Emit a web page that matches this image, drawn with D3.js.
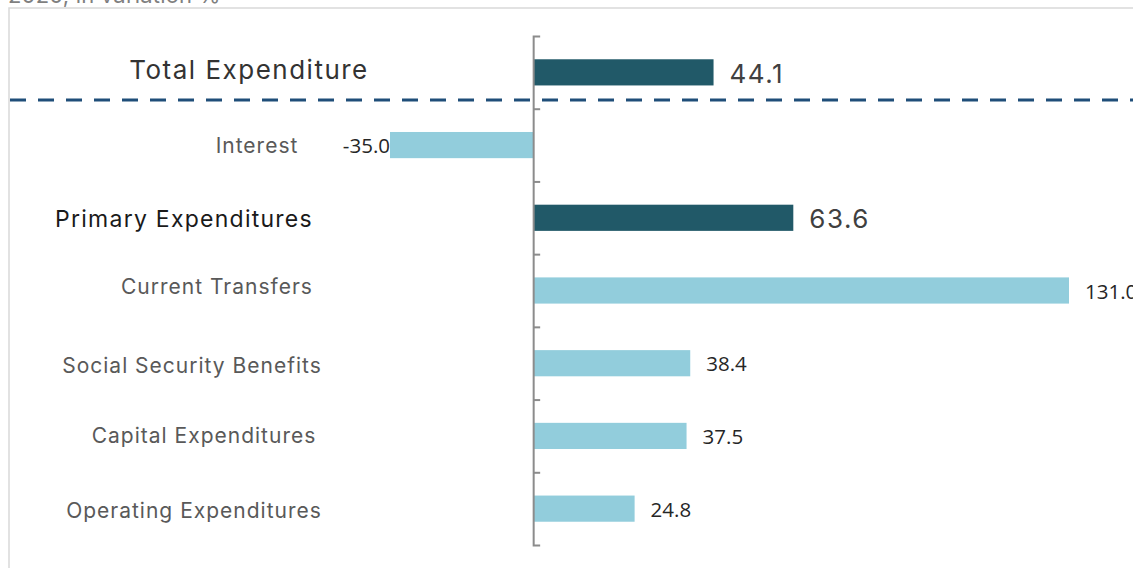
<!DOCTYPE html>
<html>
<head>
<meta charset="utf-8">
<script src="https://cdn.jsdelivr.net/npm/d3@7"></script>
<style>
  body { margin: 0; background: #fff; }
  .cat { font-family: Inter, "Open Sans", sans-serif; }
  .val-big { font-family: Inter, "Open Sans", sans-serif; }
  .val-small { font-family: "Open Sans", sans-serif; }
</style>
</head>
<body>
<div id="vis"></div>
<script>
// chart data
const categories = ['Total Expenditure', 'Interest', 'Primary Expenditures', 'Current Transfers',
                    'Social Security Benefits', 'Capital Expenditures', 'Operating Expenditures'];
const values = [44.1, -35.0, 63.6, 131.0, 38.4, 37.5, 24.8];
const totals = ['Total Expenditure', 'Primary Expenditures'];
const subtitle = '2020, in variation %';

// layout
const FRAME_WIDTH = 1133;
const FRAME_HEIGHT = 568;
const PLOT = {top: 36, bottom: 545, left: 390, right: 1069};
// label centres and small vertical nudges, by row
const LABEL_CX = [249, 257, 184, 217, 192, 204, 194];
const LABEL_DY = [-2, 1, 1, -4, 2, 0, 2];

const svg = d3.select('#vis')
    .append('svg')
        .attr('width', FRAME_WIDTH)
        .attr('height', FRAME_HEIGHT);

// light frame round the chart area
svg.append('rect')
    .attr('x', 9)
    .attr('y', 8)
    .attr('width', FRAME_WIDTH + 20)
    .attr('height', FRAME_HEIGHT + 20)
    .attr('fill', 'none')
    .attr('stroke', '#d9d9d9')
    .attr('stroke-width', 1.5);

svg.append('text')
    .attr('x', 8)
    .attr('y', 3)
    .attr('font-family', 'Inter, sans-serif')
    .attr('font-size', 22)
    .attr('letter-spacing', 0.2)
    .attr('fill', '#7f7f7f')
    .text(subtitle);

const X_SCALE = d3.scaleLinear()
    .domain(d3.extent(values))
    .range([PLOT.left, PLOT.right]);

const Y_SCALE = d3.scaleBand()
    .domain(categories)
    .range([PLOT.top, PLOT.bottom])
    .paddingInner(0.64)
    .paddingOuter(0.32);

const STEP = Y_SCALE.step();
const x0 = X_SCALE(0);

const data = categories.map((c, i) => ({cat: c, value: values[i], cx: LABEL_CX[i], dy: LABEL_DY[i],
                                         total: totals.includes(c)}));

// bars
svg.selectAll('.bar')
    .data(data)
    .enter()
    .append('rect')
    .attr('class', 'bar')
    .attr('x', (d) => Math.min(X_SCALE(d.value), x0))
    .attr('y', (d) => Y_SCALE(d.cat))
    .attr('width', (d) => Math.abs(X_SCALE(d.value) - x0))
    .attr('height', Y_SCALE.bandwidth())
    .attr('fill', (d) => d.total ? '#215968' : '#92cddc');

// axis through zero with bracket ticks between rows
const IDX_SCALE = d3.scaleLinear()
    .domain([0, categories.length])
    .range([PLOT.top, PLOT.bottom]);

const axis = svg.append('g')
    .attr('transform', 'translate(' + x0 + ',0)')
    .call(d3.axisRight(IDX_SCALE)
        .tickValues(d3.range(1, categories.length))
        .tickSize(7)
        .tickSizeOuter(7)
        .tickFormat(''));
axis.selectAll('path, line')
    .attr('stroke', '#8c8c8c')
    .attr('stroke-width', 2);

// dashed separator under the total row
const sepY = Y_SCALE(categories[0]) + Y_SCALE.bandwidth() + STEP * 0.2;
svg.append('line')
    .attr('x1', 10)
    .attr('x2', FRAME_WIDTH + 10)
    .attr('y1', sepY)
    .attr('y2', sepY)
    .attr('stroke', '#1f4e79')
    .attr('stroke-width', 3)
    .attr('stroke-dasharray', '16,12');

// category labels
function catSize(d) {
    if (d.cat === categories[0]) return 26;
    return d.total ? 23 : 21;
}
function catSpacing(d) {
    if (d.cat === categories[0]) return 1.5;
    return d.total ? 1.25 : 1;
}

svg.selectAll('.cat')
    .data(data)
    .enter()
    .append('text')
    .attr('class', 'cat')
    .attr('x', (d) => d.cx)
    .attr('y', (d) => Y_SCALE(d.cat) + Y_SCALE.bandwidth() / 2 + d.dy)
    .attr('dy', '0.35em')
    .attr('text-anchor', 'middle')
    .attr('font-size', catSize)
    .attr('letter-spacing', catSpacing)
    .attr('fill', (d) => d.cat === categories[0] ? '#333333' : (d.total ? '#1a1a1a' : '#595959'))
    .text((d) => d.cat);

// value labels
svg.selectAll('.val')
    .data(data)
    .enter()
    .append('text')
    .attr('class', (d) => d.total ? 'val-big' : 'val-small')
    .attr('x', (d) => d.value < 0 ? X_SCALE(d.value) : X_SCALE(d.value) + 16)
    .attr('y', (d) => Y_SCALE(d.cat) + Y_SCALE.bandwidth() / 2)
    .attr('dy', '0.4em')
    .attr('text-anchor', (d) => d.value < 0 ? 'end' : 'start')
    .attr('font-size', (d) => d.total ? 26 : 20.5)
    .attr('letter-spacing', (d) => d.total ? 1.5 : 0)
    .attr('fill', (d) => d.total ? '#404040' : '#262626')
    .text((d) => d.value.toFixed(1));
</script>
</body>
</html>
